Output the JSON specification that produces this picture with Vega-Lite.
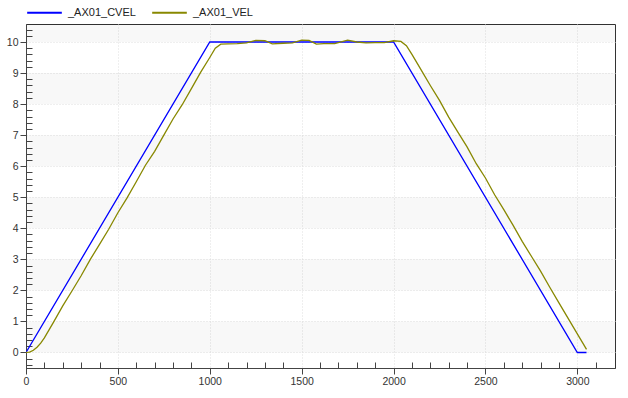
{
  "$schema": "https://vega.github.io/schema/vega-lite/v6.json",
  "width": 589,
  "height": 344,
  "autosize": {"type": "none"},
  "padding": {"left": 26, "top": 24, "right": 13, "bottom": 30},
  "config": {"view": {"stroke": "#333", "strokeWidth": 1}, "font": "Liberation Sans"},
  "datasets": {
    "bands": [
      {"lo": 0, "hi": 1}, {"lo": 2, "hi": 3}, {"lo": 4, "hi": 5},
      {"lo": 6, "hi": 7}, {"lo": 8, "hi": 9}, {"lo": 10, "hi": 10.58}
    ],
    "series": [
      {"t": 0, "v": 0, "s": "_AX01_CVEL"},
      {"t": 1000, "v": 10, "s": "_AX01_CVEL"},
      {"t": 2000, "v": 10, "s": "_AX01_CVEL"},
      {"t": 3000, "v": 0, "s": "_AX01_CVEL"},
      {"t": 3050, "v": 0, "s": "_AX01_CVEL"},
      {"t": 0, "v": 0, "s": "_AX01_VEL"},
      {"t": 20, "v": 0.01, "s": "_AX01_VEL"},
      {"t": 40, "v": 0.07, "s": "_AX01_VEL"},
      {"t": 60, "v": 0.17, "s": "_AX01_VEL"},
      {"t": 80, "v": 0.3, "s": "_AX01_VEL"},
      {"t": 100, "v": 0.47, "s": "_AX01_VEL"},
      {"t": 150, "v": 0.98, "s": "_AX01_VEL"},
      {"t": 200, "v": 1.5, "s": "_AX01_VEL"},
      {"t": 250, "v": 1.98, "s": "_AX01_VEL"},
      {"t": 300, "v": 2.47, "s": "_AX01_VEL"},
      {"t": 350, "v": 3.0, "s": "_AX01_VEL"},
      {"t": 400, "v": 3.48, "s": "_AX01_VEL"},
      {"t": 450, "v": 3.97, "s": "_AX01_VEL"},
      {"t": 500, "v": 4.5, "s": "_AX01_VEL"},
      {"t": 550, "v": 4.98, "s": "_AX01_VEL"},
      {"t": 600, "v": 5.5, "s": "_AX01_VEL"},
      {"t": 650, "v": 6.03, "s": "_AX01_VEL"},
      {"t": 700, "v": 6.48, "s": "_AX01_VEL"},
      {"t": 750, "v": 7.0, "s": "_AX01_VEL"},
      {"t": 800, "v": 7.52, "s": "_AX01_VEL"},
      {"t": 850, "v": 7.98, "s": "_AX01_VEL"},
      {"t": 900, "v": 8.5, "s": "_AX01_VEL"},
      {"t": 950, "v": 9.02, "s": "_AX01_VEL"},
      {"t": 1000, "v": 9.5, "s": "_AX01_VEL"},
      {"t": 1030, "v": 9.8, "s": "_AX01_VEL"},
      {"t": 1060, "v": 9.93, "s": "_AX01_VEL"},
      {"t": 1100, "v": 9.94, "s": "_AX01_VEL"},
      {"t": 1150, "v": 9.95, "s": "_AX01_VEL"},
      {"t": 1200, "v": 9.97, "s": "_AX01_VEL"},
      {"t": 1250, "v": 10.05, "s": "_AX01_VEL"},
      {"t": 1300, "v": 10.04, "s": "_AX01_VEL"},
      {"t": 1340, "v": 9.94, "s": "_AX01_VEL"},
      {"t": 1400, "v": 9.96, "s": "_AX01_VEL"},
      {"t": 1450, "v": 9.97, "s": "_AX01_VEL"},
      {"t": 1500, "v": 10.06, "s": "_AX01_VEL"},
      {"t": 1540, "v": 10.05, "s": "_AX01_VEL"},
      {"t": 1580, "v": 9.93, "s": "_AX01_VEL"},
      {"t": 1620, "v": 9.95, "s": "_AX01_VEL"},
      {"t": 1680, "v": 9.95, "s": "_AX01_VEL"},
      {"t": 1750, "v": 10.06, "s": "_AX01_VEL"},
      {"t": 1800, "v": 10.0, "s": "_AX01_VEL"},
      {"t": 1850, "v": 9.97, "s": "_AX01_VEL"},
      {"t": 1900, "v": 9.98, "s": "_AX01_VEL"},
      {"t": 1950, "v": 9.98, "s": "_AX01_VEL"},
      {"t": 2000, "v": 10.04, "s": "_AX01_VEL"},
      {"t": 2040, "v": 10.02, "s": "_AX01_VEL"},
      {"t": 2070, "v": 9.88, "s": "_AX01_VEL"},
      {"t": 2100, "v": 9.6, "s": "_AX01_VEL"},
      {"t": 2150, "v": 9.1, "s": "_AX01_VEL"},
      {"t": 2200, "v": 8.6, "s": "_AX01_VEL"},
      {"t": 2250, "v": 8.12, "s": "_AX01_VEL"},
      {"t": 2300, "v": 7.58, "s": "_AX01_VEL"},
      {"t": 2350, "v": 7.1, "s": "_AX01_VEL"},
      {"t": 2400, "v": 6.62, "s": "_AX01_VEL"},
      {"t": 2450, "v": 6.08, "s": "_AX01_VEL"},
      {"t": 2500, "v": 5.62, "s": "_AX01_VEL"},
      {"t": 2550, "v": 5.08, "s": "_AX01_VEL"},
      {"t": 2600, "v": 4.6, "s": "_AX01_VEL"},
      {"t": 2650, "v": 4.1, "s": "_AX01_VEL"},
      {"t": 2700, "v": 3.58, "s": "_AX01_VEL"},
      {"t": 2750, "v": 3.1, "s": "_AX01_VEL"},
      {"t": 2800, "v": 2.62, "s": "_AX01_VEL"},
      {"t": 2850, "v": 2.1, "s": "_AX01_VEL"},
      {"t": 2900, "v": 1.6, "s": "_AX01_VEL"},
      {"t": 2950, "v": 1.1, "s": "_AX01_VEL"},
      {"t": 3000, "v": 0.6, "s": "_AX01_VEL"},
      {"t": 3030, "v": 0.3, "s": "_AX01_VEL"},
      {"t": 3050, "v": 0.1, "s": "_AX01_VEL"}
    ]
  },
  "layer": [
    {
      "data": {"name": "bands"},
      "mark": {"type": "rect", "fill": "#000000", "fillOpacity": 0.028},
      "encoding": {
        "y": {
          "field": "lo", "type": "quantitative",
          "scale": {"domain": [-0.5, 10.58], "nice": false, "zero": false},
          "axis": {
            "title": null,
            "values": [-0.4,-0.2,0,0.2,0.4,0.6,0.8,1,1.2,1.4,1.6,1.8,2,2.2,2.4,2.6,2.8,3,3.2,3.4,3.6,3.8,4,4.2,4.4,4.6,4.8,5,5.2,5.4,5.6,5.8,6,6.2,6.4,6.6,6.8,7,7.2,7.4,7.6,7.8,8,8.2,8.4,8.6,8.8,9,9.2,9.4,9.6,9.8,10,10.2,10.4],
            "labelExpr": "abs(datum.value - round(datum.value)) < 0.01 ? format(datum.value, 'd') : ''",
            "tickSize": {"condition": {"test": "abs(datum.value - round(datum.value)) < 0.01", "value": 6}, "value": -6},
            "domainColor": "#444", "tickColor": "#444",
            "grid": true, "gridColor": "#dedede", "gridDash": [1, 2],
            "gridOpacity": {"condition": {"test": "abs(datum.value - round(datum.value)) < 0.01", "value": 1}, "value": 0},
            "labelFontSize": 10.5, "labelColor": "#333", "labelPadding": 2,
            "labelOverlap": false, "labelFlush": false
          }
        },
        "y2": {"field": "hi"}
      }
    },
    {
      "data": {"name": "series"},
      "mark": {"type": "line", "strokeWidth": 1.3, "clip": true},
      "encoding": {
        "x": {
          "field": "t", "type": "quantitative",
          "scale": {"domain": [0, 3205], "nice": false, "zero": false},
          "axis": {
            "title": null,
            "values": [0,100,200,300,400,500,600,700,800,900,1000,1100,1200,1300,1400,1500,1600,1700,1800,1900,2000,2100,2200,2300,2400,2500,2600,2700,2800,2900,3000,3100],
            "labelExpr": "datum.value % 500 === 0 ? format(datum.value, 'd') : ''",
            "tickSize": {"condition": {"test": "datum.value % 500 === 0", "value": 6}, "value": -6},
            "domainColor": "#444", "tickColor": "#444",
            "grid": true, "gridColor": "#dedede", "gridDash": [1, 2],
            "gridOpacity": {"condition": {"test": "datum.value % 500 === 0 && datum.value > 0", "value": 1}, "value": 0},
            "labelFontSize": 10.5, "labelColor": "#333", "labelPadding": 2,
            "labelFlush": false, "labelOverlap": false
          }
        },
        "y": {
          "field": "v", "type": "quantitative",
          "scale": {"domain": [-0.5, 10.58], "nice": false, "zero": false},
          "axis": {
            "title": null,
            "values": [-0.4,-0.2,0,0.2,0.4,0.6,0.8,1,1.2,1.4,1.6,1.8,2,2.2,2.4,2.6,2.8,3,3.2,3.4,3.6,3.8,4,4.2,4.4,4.6,4.8,5,5.2,5.4,5.6,5.8,6,6.2,6.4,6.6,6.8,7,7.2,7.4,7.6,7.8,8,8.2,8.4,8.6,8.8,9,9.2,9.4,9.6,9.8,10,10.2,10.4],
            "labelExpr": "abs(datum.value - round(datum.value)) < 0.01 ? format(datum.value, 'd') : ''",
            "tickSize": {"condition": {"test": "abs(datum.value - round(datum.value)) < 0.01", "value": 6}, "value": -6},
            "domainColor": "#444", "tickColor": "#444",
            "grid": true, "gridColor": "#dedede", "gridDash": [1, 2],
            "gridOpacity": {"condition": {"test": "abs(datum.value - round(datum.value)) < 0.01", "value": 1}, "value": 0},
            "labelFontSize": 10.5, "labelColor": "#333", "labelPadding": 2,
            "labelOverlap": false, "labelFlush": false
          }
        },
        "color": {
          "field": "s", "type": "nominal",
          "scale": {"domain": ["_AX01_CVEL", "_AX01_VEL"], "range": ["#0000ff", "#888800"]},
          "legend": {
            "title": null, "orient": "none", "legendX": 0, "legendY": -30,
            "direction": "horizontal", "symbolType": "stroke", "symbolSize": 1200,
            "symbolStrokeWidth": 2, "labelFontSize": 11, "labelColor": "#222",
            "columnPadding": 12, "labelOffset": 5
          }
        }
      }
    }
  ]
}
